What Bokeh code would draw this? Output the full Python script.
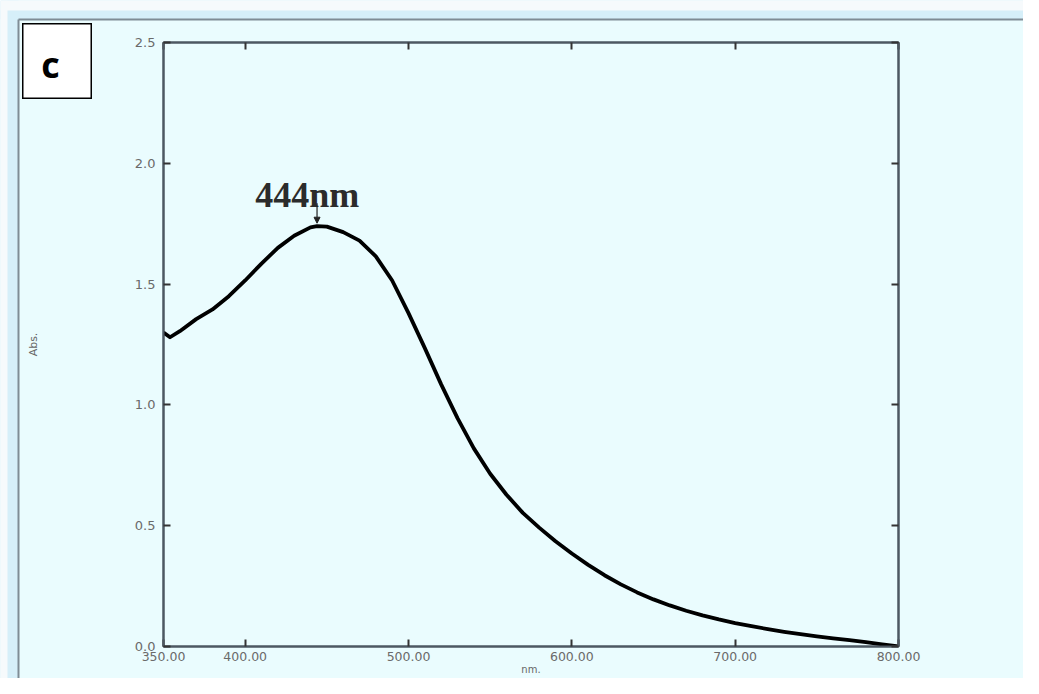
from bokeh.plotting import figure
from bokeh.layouts import column
from bokeh.models import (Range1d, LinearAxis, FixedTicker, PrintfTickFormatter,
                          Label, Arrow, NormalHead)
from bokeh.core.properties import value
from bokeh.embed import file_html
from bokeh.resources import INLINE

# ---- data ----
wavelength_nm = [350, 354, 360, 370, 380, 390, 400, 410, 420, 430, 440, 444, 450, 460,
                 470, 480, 490, 500, 510, 520, 530, 540, 550, 560, 570, 580, 590, 600,
                 610, 620, 630, 640, 650, 660, 670, 680, 690, 700, 710, 720, 730, 740,
                 750, 760, 770, 780, 790, 800]
absorbance = [1.30, 1.28, 1.305, 1.355, 1.395, 1.45, 1.515, 1.585, 1.65, 1.70, 1.735,
              1.74, 1.738, 1.715, 1.68, 1.615, 1.515, 1.38, 1.235, 1.085, 0.945, 0.82,
              0.715, 0.628, 0.553, 0.492, 0.436, 0.385, 0.338, 0.295, 0.257, 0.224,
              0.195, 0.170, 0.148, 0.129, 0.112, 0.097, 0.084, 0.072, 0.061, 0.051,
              0.042, 0.034, 0.026, 0.018, 0.009, 0.0]
x_ticks = [350, 400, 500, 600, 700, 800]
y_ticks = [0.0, 0.5, 1.0, 1.5, 2.0, 2.5]
peak_nm = 444
peak_label = "444nm"
panel_letter = "c"
x_title = "nm."
y_title = "Abs."

W, H = 1023, 678
BG = "#eafcfe"
STRIP = "#d6eff9"
AX = "#4d5862"
FRAME_L, FRAME_R, FRAME_T, FRAME_B = 163, 898, 42, 646

# ---- background decoration (window frame of the original screenshot) ----
bg = figure(width=W, height=H, output_backend="svg", toolbar_location=None,
            x_range=Range1d(0, W), y_range=Range1d(H, 0),
            x_axis_type=None, y_axis_type=None, min_border=0,
            background_fill_color=BG, border_fill_color=BG, outline_line_color=None)
bg.frame_align = False
bg.grid.grid_line_color = None
bg.quad(left=[0, 0], right=[W, 18], top=[0, 0], bottom=[19, H],
        fill_color=STRIP, line_color=None)
bg.quad(left=[0, 0], right=[W, 7], top=[0, 0], bottom=[10, H],
        fill_color="#f6fafc", line_color=None)
bg.segment(x0=[18, 18], y0=[19, 19], x1=[18, W], y1=[H, 19],
           line_color="#7f8c95", line_width=2)

# ---- main chart ----
p = figure(width=W, height=H, output_backend="svg", toolbar_location=None,
           x_range=Range1d(350, 800), y_range=Range1d(0, 2.5),
           min_border_left=FRAME_L, min_border_right=W - FRAME_R,
           min_border_top=FRAME_T, min_border_bottom=H - FRAME_B,
           background_fill_color=BG, border_fill_color=None,
           outline_line_color=AX, outline_line_width=2)
p.frame_align = False
p.margin = (-H, 0, 0, 0)
p.grid.grid_line_color = None

def style_axis(ax, labels=True):
    ax.axis_line_color = AX
    ax.axis_line_width = 2
    ax.major_tick_in = 7
    ax.major_tick_out = 0
    ax.minor_tick_line_color = None
    ax.major_tick_line_color = "#333333"
    ax.major_tick_line_width = 2
    ax.major_label_text_font = "DejaVu Sans"
    ax.major_label_text_font_size = "13px"
    ax.major_label_text_color = "#6a6a6a" if labels else None

xa = p.xaxis[0]
xa.ticker = FixedTicker(ticks=x_ticks)
xa.formatter = PrintfTickFormatter(format="%.2f")
style_axis(xa)
xa.major_label_text_font_size = "12.5px"
xa.major_label_standoff = 5
xa.axis_label = x_title
xa.axis_label_text_font = "DejaVu Sans"
xa.axis_label_text_font_size = "10px"
xa.axis_label_text_font_style = "normal"
xa.axis_label_text_color = "#666666"
xa.axis_label_standoff = 0

ya = p.yaxis[0]
ya.ticker = FixedTicker(ticks=y_ticks)
ya.formatter = PrintfTickFormatter(format="%.1f")
style_axis(ya)
ya.major_label_standoff = 8
ya.axis_label = y_title
ya.axis_label_text_font = "DejaVu Sans"
ya.axis_label_text_font_size = "11px"
ya.axis_label_text_font_style = "normal"
ya.axis_label_text_color = "#666666"
ya.axis_label_standoff = 92

top = LinearAxis(ticker=FixedTicker(ticks=x_ticks))
style_axis(top, labels=False)
p.add_layout(top, "above")
right = LinearAxis(ticker=FixedTicker(ticks=y_ticks))
style_axis(right, labels=False)
p.add_layout(right, "right")

# curve
p.line(wavelength_nm, absorbance, line_color="black", line_width=3.8,
       line_join="round")

# peak annotation (inside the frame)
p.add_layout(Label(x=peak_nm - 6, y=1.869, text=peak_label, text_align="center",
                   text_baseline="alphabetic", text_font="Liberation Serif",
                   text_font_style="bold", text_font_size="36px", text_color="#2b2b2b"))
p.add_layout(Arrow(end=NormalHead(size=6, fill_color="#222222", line_color="#222222"),
                   x_start=peak_nm, y_start=1.835, x_end=peak_nm, y_end=1.752,
                   line_color="#222222", line_width=1.2))

# ---- panel letter box, laid over the chart ----
BW, BH = 70, 76
cb = figure(width=BW, height=BH, output_backend="svg", toolbar_location=None,
            x_range=Range1d(0, BW), y_range=Range1d(BH, 0),
            x_axis_type=None, y_axis_type=None, min_border=0,
            background_fill_color="white", border_fill_color="white",
            outline_line_color="black", outline_line_width=2)
cb.frame_align = False
cb.grid.grid_line_color = None
cb.margin = (23 - H, 0, 0, 22)
cb.text(x=[28], y=[41], text=[panel_letter], text_align="center",
        text_baseline="alphabetic", text_font=value("Open Sans"),
        text_font_style="bold", text_font_size="36px", text_color="black")

layout = column(bg, p, cb, spacing=0)
open("out.html", "w").write(file_html(layout, INLINE))
